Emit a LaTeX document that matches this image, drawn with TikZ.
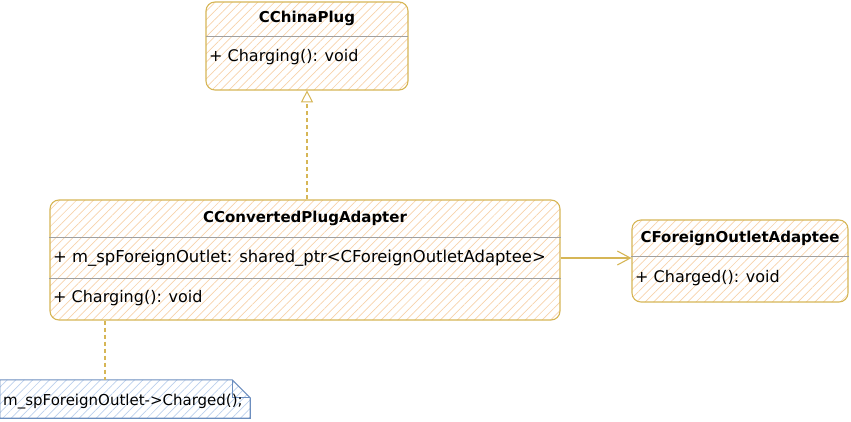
\documentclass[tikz,border=0pt]{standalone}
\usepackage{fontspec}
\setmainfont{DejaVu Sans}
\usetikzlibrary{positioning,arrows.meta,patterns.meta}
\definecolor{plugline}{HTML}{D6B656}
\definecolor{plughatch}{HTML}{F7D2AA}
\definecolor{noteline}{HTML}{6C8EBF}
\definecolor{notehatch}{HTML}{BCD0EC}
\definecolor{rowline}{HTML}{A0A0A0}

\begin{document}
\begin{tikzpicture}[x=1pt,y=-1pt]

	\tikzstyle{classbox} = [rectangle,rounded corners=9pt,draw=plugline,line width=1.1pt,inner sep=0pt,
		pattern={Lines[angle=45,distance=6pt,line width=0.7pt]},pattern color=plughatch]
	\tikzstyle{classname} = [font=\fontsize{15}{17}\selectfont\bfseries,inner sep=0pt]
	\tikzstyle{member} = [font=\fontsize{16}{18}\selectfont,anchor=west,inner sep=0pt]
	\tikzstyle{divider} = [draw=rowline,line width=0.6pt]
	\tikzstyle{realize} = [draw=plugline,dash pattern=on 4pt off 3pt,line width=1.3pt,-{Triangle[open,length=12pt,width=12pt,fill=white,line width=1pt]}]
	\tikzstyle{assoc} = [draw=plugline,line width=1.1pt,-{Straight Barb[length=13pt,width=14pt]}]
	\tikzstyle{notelink} = [draw=plugline,dash pattern=on 4pt off 3pt,line width=1.3pt]

	\useasboundingbox (0,0) rectangle (851,421);

	% classes
	\node[classbox,minimum width=202pt,minimum height=88pt] (china) at (307,46) {};
	\node[classbox,minimum width=510pt,minimum height=120pt] (adapter) at (305,260) {};
	\node[classbox,minimum width=216pt,minimum height=82pt] (adaptee) at (740,261) {};

	\node[classname] (chinaname) at (307,18) {CChinaPlug};
	\draw[divider] (china.west |- 0,36) -- (china.east |- 0,36);
	\node[member] (chinacharge) at (209,57) {+ Charging(): void};

	\node[classname] (adaptername) at (305,218) {CConvertedPlugAdapter};
	\draw[divider] (adapter.west |- 0,237) -- (adapter.east |- 0,237);
	\node[member,font=\fontsize{16.4}{18}\selectfont] (adapterfield) at (53,258) {+ m\_spForeignOutlet: shared\_ptr<CForeignOutletAdaptee>};
	\draw[divider] (adapter.west |- 0,278) -- (adapter.east |- 0,278);
	\node[member] (adaptercharge) at (53,298) {+ Charging(): void};

	\node[classname] (adapteename) at (740,238) {CForeignOutletAdaptee};
	\draw[divider] (adaptee.west |- 0,256) -- (adaptee.east |- 0,256);
	\node[member] (adapteecharged) at (635,278) {+ Charged(): void};

	% note
	\node[inner sep=0pt,minimum width=250pt,minimum height=38pt] (note) at (125,399) {};
	\fill[pattern={Lines[angle=45,distance=6pt,line width=0.7pt]},pattern color=notehatch]
		(note.north west) -- ([xshift=-18pt]note.north east) -- ([yshift=-18pt]note.north east) -- (note.south east) -- (note.south west) -- cycle;
	\draw[noteline,line width=1.1pt]
		(note.north west) -- ([xshift=-18pt]note.north east) -- ([yshift=-18pt]note.north east) -- (note.south east) -- (note.south west) -- cycle;
	\draw[noteline,line width=1.1pt] ([xshift=-18pt]note.north east) -- ([xshift=-18pt,yshift=-18pt]note.north east) -- ([yshift=-18pt]note.north east);
	\node[member,font=\fontsize{15}{17}\selectfont] (notetext) at (3,402) {m\_spForeignOutlet->Charged();};
	\coordinate (notepin) at (105,380);

	% connectors
	\draw[realize] (adapter.north -| china.south) -- (china.south);
	\draw[assoc] (adapter.east |- adapterfield) -- (adaptee.west |- adapterfield);
	\draw[notelink] (adapter.south -| notepin) -- (notepin);

\end{tikzpicture}
\end{document}
